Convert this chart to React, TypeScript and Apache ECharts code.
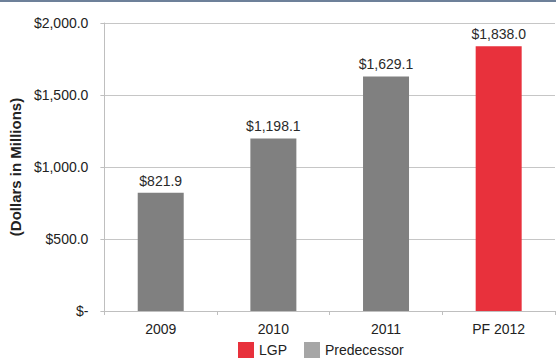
import React, { useEffect, useRef } from "react";
import * as echarts from "echarts";

const categories = ["2009", "2010", "2011", "PF 2012"];
const lgpValues: (number | null)[] = [null, null, null, 1838.0];
const predecessorValues: (number | null)[] = [821.9, 1198.1, 1629.1, null];
const yTicks = [0, 500, 1000, 1500, 2000];

const fmtMoney = (v: number) =>
  v === 0
    ? "$-"
    : "$" + v.toLocaleString("en-US", { minimumFractionDigits: 1, maximumFractionDigits: 1 });

export default function App() {
  const ref = useRef<HTMLDivElement>(null);
  useEffect(() => {
    document.body.style.margin = "0";
    const chart = echarts.init(ref.current!, null, { renderer: "svg" });
    const font = "Arial, 'Liberation Sans', sans-serif";
    const labelCommon = {
      show: true,
      position: "top" as const,
      distance: 5,
      color: "#2a2a2a",
      fontSize: 14,
      fontFamily: font,
      formatter: (p: any) => fmtMoney(p.value),
    };
    chart.setOption({
      animation: false,
      backgroundColor: "#fff",
      textStyle: { fontFamily: font },
      graphic: [
        {
          type: "rect",
          left: 0,
          top: 0,
          shape: { width: 556, height: 2 },
          style: { fill: "#6d8099" },
        },
      ],
      grid: { left: 100, right: 1, top: 23, bottom: 50, containLabel: false },
      legend: {
        left: 238,
        top: 342,
        padding: 0,
        icon: "rect",
        itemWidth: 16,
        itemHeight: 16,
        itemGap: 17,
        textStyle: { fontSize: 14, color: "#222", fontFamily: font, lineHeight: 16 },
        data: [
          { name: "LGP", itemStyle: { color: "#e8313c" } },
          { name: "Predecessor", itemStyle: { color: "#a6a6a6" } },
        ],
      },
      xAxis: {
        type: "category",
        data: categories,
        axisLine: { show: true, lineStyle: { color: "#bfbfbf" } },
        axisTick: { show: true, length: 4, lineStyle: { color: "#bfbfbf" } },
        axisLabel: { color: "#222", fontSize: 14, margin: 11, fontFamily: font },
      },
      yAxis: {
        type: "value",
        min: yTicks[0],
        max: yTicks[yTicks.length - 1],
        interval: 500,
        name: "(Dollars in Millions)",
        nameLocation: "middle",
        nameGap: 76,
        nameRotate: 90,
        nameTextStyle: { fontSize: 15, fontWeight: "bold", color: "#222", fontFamily: font },
        axisLine: { show: true, lineStyle: { color: "#bfbfbf" } },
        axisTick: { show: true, length: 4, lineStyle: { color: "#bfbfbf" } },
        splitLine: { show: true, lineStyle: { color: "#c6c6c6" } },
        axisLabel: {
          color: "#222",
          fontSize: 14,
          margin: 16,
          fontFamily: font,
          formatter: (v: number) => fmtMoney(v),
        },
      },
      series: [
        {
          name: "LGP",
          type: "bar",
          data: lgpValues,
          barWidth: 46,
          barGap: "-100%",
          itemStyle: { color: "#e8313c" },
          label: labelCommon,
        },
        {
          name: "Predecessor",
          type: "bar",
          data: predecessorValues,
          barWidth: 46,
          barGap: "-100%",
          itemStyle: { color: "#808080" },
          label: labelCommon,
        },
      ],
    });
    return () => chart.dispose();
  }, []);
  return <div ref={ref} style={{ width: 556, height: 361 }} />;
}
